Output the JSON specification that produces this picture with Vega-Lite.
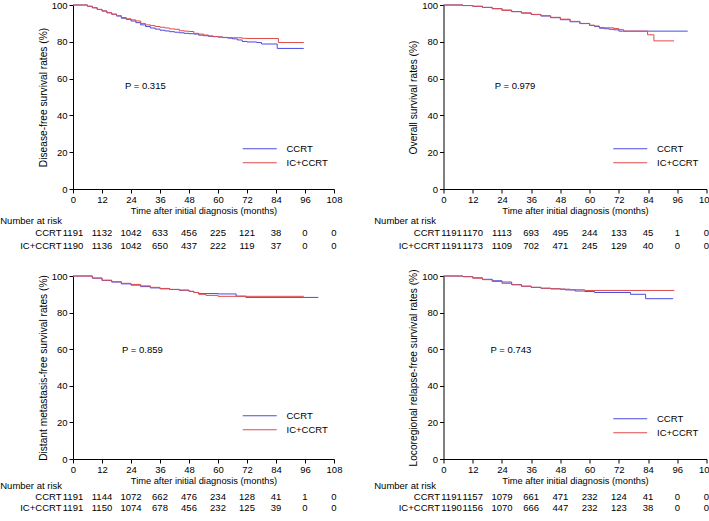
{
  "$schema": "https://vega.github.io/schema/vega-lite/v6.json",
  "padding": {"left": 0, "top": 0, "right": 0, "bottom": 0},
  "background": "white",
  "config": {
    "view": {"stroke": null},
    "font": "Liberation Sans",
    "axis": {"grid": false, "domainColor": "#000", "tickColor": "#000", "labelColor": "#000", "titleColor": "#000", "labelFontSize": 9.5, "titleFontWeight": "normal", "tickSize": 4, "labelOverlap": false, "labelFlush": false, "labelBound": false, "labelFont": "Liberation Sans", "titleFont": "Liberation Sans"},
    "legend": {"labelFont": "Liberation Sans", "labelColor": "#000"},
    "title": {"font": "Liberation Sans", "color": "#000"},
    "text": {"font": "Liberation Sans", "color": "#000"}
  },
  "datasets": {
    "dfs": [
      {"a":"CCRT","t":0,"s":100},{"a":"CCRT","t":4,"s":100},{"a":"CCRT","t":6,"s":99.3},{"a":"CCRT","t":8,"s":98.5},{"a":"CCRT","t":10,"s":97.6},{"a":"CCRT","t":12,"s":96.7},{"a":"CCRT","t":14,"s":95.8},{"a":"CCRT","t":16,"s":95.0},{"a":"CCRT","t":18,"s":94.0},{"a":"CCRT","t":20,"s":92.8},{"a":"CCRT","t":22,"s":92.2},{"a":"CCRT","t":24,"s":91.3},{"a":"CCRT","t":26,"s":90.4},{"a":"CCRT","t":28,"s":89.2},{"a":"CCRT","t":30,"s":88.3},{"a":"CCRT","t":32,"s":87.5},{"a":"CCRT","t":34,"s":86.9},{"a":"CCRT","t":36,"s":86.3},{"a":"CCRT","t":38,"s":85.9},{"a":"CCRT","t":40,"s":85.5},{"a":"CCRT","t":42,"s":85.2},{"a":"CCRT","t":44,"s":84.9},{"a":"CCRT","t":46,"s":84.6},{"a":"CCRT","t":48,"s":84.4},{"a":"CCRT","t":50,"s":84.2},{"a":"CCRT","t":52,"s":83.6},{"a":"CCRT","t":54,"s":83.3},{"a":"CCRT","t":56,"s":83.0},{"a":"CCRT","t":58,"s":82.8},{"a":"CCRT","t":60,"s":82.6},{"a":"CCRT","t":62,"s":82.3},{"a":"CCRT","t":64,"s":82.0},{"a":"CCRT","t":66,"s":81.6},{"a":"CCRT","t":68,"s":81.0},{"a":"CCRT","t":70,"s":80.2},{"a":"CCRT","t":72,"s":79.9},{"a":"CCRT","t":76,"s":79.6},{"a":"CCRT","t":78,"s":78.8},{"a":"CCRT","t":84.5,"s":76.4},{"a":"CCRT","t":95.5,"s":76.4},
      {"a":"IC+CCRT","t":0,"s":100},{"a":"IC+CCRT","t":4,"s":100},{"a":"IC+CCRT","t":6,"s":99.3},{"a":"IC+CCRT","t":8,"s":98.5},{"a":"IC+CCRT","t":10,"s":97.6},{"a":"IC+CCRT","t":12,"s":96.8},{"a":"IC+CCRT","t":14,"s":95.8},{"a":"IC+CCRT","t":16,"s":95.0},{"a":"IC+CCRT","t":18,"s":94.2},{"a":"IC+CCRT","t":20,"s":93.2},{"a":"IC+CCRT","t":22,"s":92.5},{"a":"IC+CCRT","t":24,"s":91.9},{"a":"IC+CCRT","t":26,"s":91.3},{"a":"IC+CCRT","t":28,"s":90.0},{"a":"IC+CCRT","t":30,"s":89.2},{"a":"IC+CCRT","t":32,"s":88.8},{"a":"IC+CCRT","t":34,"s":88.3},{"a":"IC+CCRT","t":36,"s":87.9},{"a":"IC+CCRT","t":38,"s":87.5},{"a":"IC+CCRT","t":40,"s":87.0},{"a":"IC+CCRT","t":42,"s":86.8},{"a":"IC+CCRT","t":44,"s":86.0},{"a":"IC+CCRT","t":46,"s":85.8},{"a":"IC+CCRT","t":48,"s":85.6},{"a":"IC+CCRT","t":50,"s":84.6},{"a":"IC+CCRT","t":52,"s":84.2},{"a":"IC+CCRT","t":54,"s":83.7},{"a":"IC+CCRT","t":56,"s":83.2},{"a":"IC+CCRT","t":58,"s":82.9},{"a":"IC+CCRT","t":60,"s":82.6},{"a":"IC+CCRT","t":62,"s":82.4},{"a":"IC+CCRT","t":64,"s":82.3},{"a":"IC+CCRT","t":66,"s":82.2},{"a":"IC+CCRT","t":70,"s":81.9},{"a":"IC+CCRT","t":72,"s":81.8},{"a":"IC+CCRT","t":85,"s":79.6},{"a":"IC+CCRT","t":95.5,"s":79.6}
    ],
    "os": [
      {"a":"CCRT","t":0,"s":100},{"a":"CCRT","t":4,"s":100},{"a":"CCRT","t":8,"s":99.7},{"a":"CCRT","t":12,"s":99.3},{"a":"CCRT","t":16,"s":98.7},{"a":"CCRT","t":20,"s":98.0},{"a":"CCRT","t":24,"s":97.2},{"a":"CCRT","t":28,"s":96.4},{"a":"CCRT","t":32,"s":95.6},{"a":"CCRT","t":36,"s":94.8},{"a":"CCRT","t":40,"s":94.0},{"a":"CCRT","t":44,"s":93.1},{"a":"CCRT","t":48,"s":92.0},{"a":"CCRT","t":52,"s":90.9},{"a":"CCRT","t":56,"s":89.9},{"a":"CCRT","t":60,"s":88.9},{"a":"CCRT","t":62,"s":88.3},{"a":"CCRT","t":64,"s":87.4},{"a":"CCRT","t":66,"s":87.1},{"a":"CCRT","t":68,"s":86.8},{"a":"CCRT","t":70,"s":86.5},{"a":"CCRT","t":72,"s":85.8},{"a":"CCRT","t":100.3,"s":85.8},
      {"a":"IC+CCRT","t":0,"s":100},{"a":"IC+CCRT","t":4,"s":100},{"a":"IC+CCRT","t":8,"s":99.7},{"a":"IC+CCRT","t":12,"s":99.3},{"a":"IC+CCRT","t":16,"s":98.7},{"a":"IC+CCRT","t":20,"s":98.0},{"a":"IC+CCRT","t":24,"s":97.1},{"a":"IC+CCRT","t":28,"s":96.4},{"a":"IC+CCRT","t":32,"s":95.7},{"a":"IC+CCRT","t":36,"s":94.9},{"a":"IC+CCRT","t":40,"s":94.2},{"a":"IC+CCRT","t":44,"s":93.3},{"a":"IC+CCRT","t":48,"s":92.3},{"a":"IC+CCRT","t":52,"s":91.1},{"a":"IC+CCRT","t":56,"s":90.0},{"a":"IC+CCRT","t":60,"s":89.0},{"a":"IC+CCRT","t":62,"s":88.6},{"a":"IC+CCRT","t":64,"s":87.8},{"a":"IC+CCRT","t":66,"s":87.6},{"a":"IC+CCRT","t":70,"s":87.2},{"a":"IC+CCRT","t":72,"s":86.6},{"a":"IC+CCRT","t":74,"s":85.8},{"a":"IC+CCRT","t":83.8,"s":83.8},{"a":"IC+CCRT","t":86.4,"s":80.5},{"a":"IC+CCRT","t":94.7,"s":80.5}
    ],
    "dmfs": [
      {"a":"CCRT","t":0,"s":100},{"a":"CCRT","t":4,"s":100},{"a":"CCRT","t":8,"s":98.8},{"a":"CCRT","t":12,"s":97.6},{"a":"CCRT","t":16,"s":96.7},{"a":"CCRT","t":20,"s":95.7},{"a":"CCRT","t":24,"s":95.0},{"a":"CCRT","t":28,"s":94.2},{"a":"CCRT","t":32,"s":93.5},{"a":"CCRT","t":36,"s":93.0},{"a":"CCRT","t":40,"s":92.6},{"a":"CCRT","t":44,"s":92.2},{"a":"CCRT","t":48,"s":91.6},{"a":"CCRT","t":50,"s":91.0},{"a":"CCRT","t":52,"s":90.4},{"a":"CCRT","t":60,"s":90.2},{"a":"CCRT","t":67.5,"s":89.0},{"a":"CCRT","t":71.5,"s":88.3},{"a":"CCRT","t":101.5,"s":88.3},
      {"a":"IC+CCRT","t":0,"s":100},{"a":"IC+CCRT","t":4,"s":100},{"a":"IC+CCRT","t":8,"s":98.9},{"a":"IC+CCRT","t":12,"s":97.7},{"a":"IC+CCRT","t":16,"s":96.9},{"a":"IC+CCRT","t":20,"s":96.0},{"a":"IC+CCRT","t":24,"s":95.4},{"a":"IC+CCRT","t":28,"s":94.6},{"a":"IC+CCRT","t":32,"s":93.8},{"a":"IC+CCRT","t":36,"s":93.2},{"a":"IC+CCRT","t":40,"s":92.7},{"a":"IC+CCRT","t":44,"s":92.3},{"a":"IC+CCRT","t":48,"s":91.6},{"a":"IC+CCRT","t":50,"s":91.0},{"a":"IC+CCRT","t":52,"s":90.0},{"a":"IC+CCRT","t":55,"s":89.4},{"a":"IC+CCRT","t":60,"s":88.9},{"a":"IC+CCRT","t":95.5,"s":88.9}
    ],
    "lrrfs": [
      {"a":"CCRT","t":0,"s":100},{"a":"CCRT","t":4,"s":100},{"a":"CCRT","t":8,"s":99.7},{"a":"CCRT","t":12,"s":99.0},{"a":"CCRT","t":16,"s":98.2},{"a":"CCRT","t":20,"s":97.4},{"a":"CCRT","t":24,"s":96.7},{"a":"CCRT","t":28,"s":95.3},{"a":"CCRT","t":32,"s":94.4},{"a":"CCRT","t":36,"s":93.8},{"a":"CCRT","t":40,"s":93.3},{"a":"CCRT","t":44,"s":93.0},{"a":"CCRT","t":48,"s":92.8},{"a":"CCRT","t":50,"s":92.4},{"a":"CCRT","t":54,"s":91.8},{"a":"CCRT","t":58,"s":91.5},{"a":"CCRT","t":62,"s":91.0},{"a":"CCRT","t":76.8,"s":90.0},{"a":"CCRT","t":83,"s":87.6},{"a":"CCRT","t":94.3,"s":87.6},
      {"a":"IC+CCRT","t":0,"s":100},{"a":"IC+CCRT","t":4,"s":100},{"a":"IC+CCRT","t":8,"s":99.6},{"a":"IC+CCRT","t":12,"s":98.8},{"a":"IC+CCRT","t":16,"s":98.0},{"a":"IC+CCRT","t":20,"s":97.0},{"a":"IC+CCRT","t":24,"s":96.0},{"a":"IC+CCRT","t":28,"s":95.2},{"a":"IC+CCRT","t":32,"s":94.4},{"a":"IC+CCRT","t":36,"s":93.8},{"a":"IC+CCRT","t":40,"s":93.3},{"a":"IC+CCRT","t":44,"s":93.0},{"a":"IC+CCRT","t":48,"s":92.8},{"a":"IC+CCRT","t":52,"s":92.5},{"a":"IC+CCRT","t":58,"s":92.1},{"a":"IC+CCRT","t":94.8,"s":92.1}
    ],
    "dfs_risk": [
      {"a":"CCRT","t":0,"n":1191},{"a":"CCRT","t":12,"n":1132},{"a":"CCRT","t":24,"n":1042},{"a":"CCRT","t":36,"n":633},{"a":"CCRT","t":48,"n":456},{"a":"CCRT","t":60,"n":225},{"a":"CCRT","t":72,"n":121},{"a":"CCRT","t":84,"n":38},{"a":"CCRT","t":96,"n":0},{"a":"CCRT","t":108,"n":0},
      {"a":"IC+CCRT","t":0,"n":1190},{"a":"IC+CCRT","t":12,"n":1136},{"a":"IC+CCRT","t":24,"n":1042},{"a":"IC+CCRT","t":36,"n":650},{"a":"IC+CCRT","t":48,"n":437},{"a":"IC+CCRT","t":60,"n":222},{"a":"IC+CCRT","t":72,"n":119},{"a":"IC+CCRT","t":84,"n":37},{"a":"IC+CCRT","t":96,"n":0},{"a":"IC+CCRT","t":108,"n":0}
    ],
    "os_risk": [
      {"a":"CCRT","t":0,"n":1191},{"a":"CCRT","t":12,"n":1170},{"a":"CCRT","t":24,"n":1113},{"a":"CCRT","t":36,"n":693},{"a":"CCRT","t":48,"n":495},{"a":"CCRT","t":60,"n":244},{"a":"CCRT","t":72,"n":133},{"a":"CCRT","t":84,"n":45},{"a":"CCRT","t":96,"n":1},{"a":"CCRT","t":108,"n":0},
      {"a":"IC+CCRT","t":0,"n":1191},{"a":"IC+CCRT","t":12,"n":1173},{"a":"IC+CCRT","t":24,"n":1109},{"a":"IC+CCRT","t":36,"n":702},{"a":"IC+CCRT","t":48,"n":471},{"a":"IC+CCRT","t":60,"n":245},{"a":"IC+CCRT","t":72,"n":129},{"a":"IC+CCRT","t":84,"n":40},{"a":"IC+CCRT","t":96,"n":0},{"a":"IC+CCRT","t":108,"n":0}
    ],
    "dmfs_risk": [
      {"a":"CCRT","t":0,"n":1191},{"a":"CCRT","t":12,"n":1144},{"a":"CCRT","t":24,"n":1072},{"a":"CCRT","t":36,"n":662},{"a":"CCRT","t":48,"n":476},{"a":"CCRT","t":60,"n":234},{"a":"CCRT","t":72,"n":128},{"a":"CCRT","t":84,"n":41},{"a":"CCRT","t":96,"n":1},{"a":"CCRT","t":108,"n":0},
      {"a":"IC+CCRT","t":0,"n":1191},{"a":"IC+CCRT","t":12,"n":1150},{"a":"IC+CCRT","t":24,"n":1074},{"a":"IC+CCRT","t":36,"n":678},{"a":"IC+CCRT","t":48,"n":456},{"a":"IC+CCRT","t":60,"n":232},{"a":"IC+CCRT","t":72,"n":125},{"a":"IC+CCRT","t":84,"n":39},{"a":"IC+CCRT","t":96,"n":0},{"a":"IC+CCRT","t":108,"n":0}
    ],
    "lrrfs_risk": [
      {"a":"CCRT","t":0,"n":1191},{"a":"CCRT","t":12,"n":1157},{"a":"CCRT","t":24,"n":1079},{"a":"CCRT","t":36,"n":661},{"a":"CCRT","t":48,"n":471},{"a":"CCRT","t":60,"n":232},{"a":"CCRT","t":72,"n":124},{"a":"CCRT","t":84,"n":41},{"a":"CCRT","t":96,"n":0},{"a":"CCRT","t":108,"n":0},
      {"a":"IC+CCRT","t":0,"n":1190},{"a":"IC+CCRT","t":12,"n":1156},{"a":"IC+CCRT","t":24,"n":1070},{"a":"IC+CCRT","t":36,"n":666},{"a":"IC+CCRT","t":48,"n":447},{"a":"IC+CCRT","t":60,"n":232},{"a":"IC+CCRT","t":72,"n":123},{"a":"IC+CCRT","t":84,"n":38},{"a":"IC+CCRT","t":96,"n":0},{"a":"IC+CCRT","t":108,"n":0}
    ]
  },
  "resolve": {"scale": {"color": "independent"}, "legend": {"color": "independent"}},
  "spacing": 16,
  "vconcat": [
    {
      "hconcat": [
        {
          "spacing": -1,
          "vconcat": [
            {
              "width": 261, "height": 184,
              "layer": [
                {
                  "data": {"name": "dfs"},
                  "mark": {"type": "line", "interpolate": "step-after", "strokeWidth": 1},
                  "encoding": {
                    "x": {"field": "t", "type": "quantitative", "scale": {"domain": [0, 108], "nice": false, "zero": false}, "axis": {"values": [0,12,24,36,48,60,72,84,96,108], "tickCount": 20, "labelOverlap": false, "title": "Time after initial diagnosis (months)", "titleFontSize": 9.3, "labelPadding": 1.5, "titlePadding": 2}},
                    "y": {"field": "s", "type": "quantitative", "scale": {"domain": [0, 100], "nice": false}, "axis": {"values": [0,20,40,60,80,100], "tickCount": 20, "labelOverlap": false, "title": "Disease-free survival rates (%)", "titleFontSize": 10.2, "labelPadding": 2, "titlePadding": 3}},
                    "color": {"field": "a", "type": "nominal", "scale": {"domain": ["CCRT", "IC+CCRT"], "range": ["#4B4BDF", "#E04B4B"]}, "legend": {"title": null, "orient": "none", "legendX": 182, "legendY": 139, "symbolType": "M-17,0H17", "symbolSize": 4, "symbolStrokeWidth": 1, "labelOffset": 22, "labelFontSize": 9.5, "rowPadding": 3, "padding": 0}}
                  }
                },
                {
                  "data": {"values": [{}]},
                  "mark": {"type": "text", "align": "left", "baseline": "middle", "fontSize": 9.5},
                  "encoding": {"x": {"datum": 21.5}, "y": {"datum": 56}, "text": {"value": "P = 0.315"}}
                }
              ]
            },
            {
              "width": 261, "height": 26,
              "data": {"name": "dfs_risk"},
              "title": {"text": "Number at risk", "anchor": "start", "frame": "bounds", "fontSize": 9.5, "fontWeight": "normal", "offset": 1, "dx": -19.5},
              "mark": {"type": "text", "fontSize": 9.5},
              "encoding": {
                "x": {"field": "t", "type": "quantitative", "scale": {"domain": [0, 108], "nice": false, "zero": false}, "axis": null},
                "y": {"field": "a", "type": "nominal", "scale": {"domain": ["CCRT", "IC+CCRT"]}, "axis": {"title": null, "domain": false, "ticks": false, "tickSize": 0, "labelPadding": 12, "labelFontSize": 9.5}},
                "text": {"field": "n"}
              }
            }
          ]
        },
        {
          "spacing": -1,
          "vconcat": [
            {
              "width": 263, "height": 184,
              "layer": [
                {
                  "data": {"name": "os"},
                  "mark": {"type": "line", "interpolate": "step-after", "strokeWidth": 1},
                  "encoding": {
                    "x": {"field": "t", "type": "quantitative", "scale": {"domain": [0, 108], "nice": false, "zero": false}, "axis": {"values": [0,12,24,36,48,60,72,84,96,108], "tickCount": 20, "labelOverlap": false, "title": "Time after initial diagnosis (months)", "titleFontSize": 9.3, "labelPadding": 1.5, "titlePadding": 2}},
                    "y": {"field": "s", "type": "quantitative", "scale": {"domain": [0, 100], "nice": false}, "axis": {"values": [0,20,40,60,80,100], "tickCount": 20, "labelOverlap": false, "title": "Overall survival rates (%)", "titleFontSize": 10.2, "labelPadding": 2, "titlePadding": 3}},
                    "color": {"field": "a", "type": "nominal", "scale": {"domain": ["CCRT", "IC+CCRT"], "range": ["#4B4BDF", "#E04B4B"]}, "legend": {"title": null, "orient": "none", "legendX": 182, "legendY": 139, "symbolType": "M-17,0H17", "symbolSize": 4, "symbolStrokeWidth": 1, "labelOffset": 22, "labelFontSize": 9.5, "rowPadding": 3, "padding": 0}}
                  }
                },
                {
                  "data": {"values": [{}]},
                  "mark": {"type": "text", "align": "left", "baseline": "middle", "fontSize": 9.5},
                  "encoding": {"x": {"datum": 21}, "y": {"datum": 56}, "text": {"value": "P = 0.979"}}
                }
              ]
            },
            {
              "width": 263, "height": 26,
              "data": {"name": "os_risk"},
              "title": {"text": "Number at risk", "anchor": "start", "frame": "bounds", "fontSize": 9.5, "fontWeight": "normal", "offset": 1, "dx": -24},
              "encoding": {
                "x": {"field": "t", "type": "quantitative", "scale": {"domain": [0, 108], "nice": false, "zero": false}, "axis": null},
                "y": {"field": "a", "type": "nominal", "scale": {"domain": ["CCRT", "IC+CCRT"]}, "axis": {"title": null, "domain": false, "ticks": false, "tickSize": 0, "labelPadding": 4, "labelFontSize": 9.5}},
                "text": {"field": "n"}
              },
              "layer": [
                {"transform": [{"filter": "datum.t > 0"}], "mark": {"type": "text", "fontSize": 9.5}},
                {"transform": [{"filter": "datum.t == 0"}], "mark": {"type": "text", "fontSize": 9.5, "dx": 8}}
              ]
            }
          ]
        }
      ],
      "spacing": 31.5,
      "resolve": {"scale": {"color": "independent"}, "legend": {"color": "independent"}}
    },
    {
      "hconcat": [
        {
          "spacing": -6,
          "vconcat": [
            {
              "width": 261, "height": 183,
              "layer": [
                {
                  "data": {"name": "dmfs"},
                  "mark": {"type": "line", "interpolate": "step-after", "strokeWidth": 1},
                  "encoding": {
                    "x": {"field": "t", "type": "quantitative", "scale": {"domain": [0, 108], "nice": false, "zero": false}, "axis": {"values": [0,12,24,36,48,60,72,84,96,108], "tickCount": 20, "labelOverlap": false, "title": "Time after initial diagnosis (months)", "titleFontSize": 9.3, "labelPadding": 1.5, "titlePadding": 2}},
                    "y": {"field": "s", "type": "quantitative", "scale": {"domain": [0, 100], "nice": false}, "axis": {"values": [0,20,40,60,80,100], "tickCount": 20, "labelOverlap": false, "title": "Distant metastasis-free survival rates (%)", "titleFontSize": 10.2, "labelPadding": 2, "titlePadding": 3}},
                    "color": {"field": "a", "type": "nominal", "scale": {"domain": ["CCRT", "IC+CCRT"], "range": ["#4B4BDF", "#E04B4B"]}, "legend": {"title": null, "orient": "none", "legendX": 182, "legendY": 135, "symbolType": "M-17,0H17", "symbolSize": 4, "symbolStrokeWidth": 1, "labelOffset": 22, "labelFontSize": 9.5, "rowPadding": 3, "padding": 0}}
                  }
                },
                {
                  "data": {"values": [{}]},
                  "mark": {"type": "text", "align": "left", "baseline": "middle", "fontSize": 9.5},
                  "encoding": {"x": {"datum": 20.3}, "y": {"datum": 59.6}, "text": {"value": "P = 0.859"}}
                }
              ]
            },
            {
              "width": 261, "height": 22,
              "data": {"name": "dmfs_risk"},
              "title": {"text": "Number at risk", "anchor": "start", "frame": "bounds", "fontSize": 9.5, "fontWeight": "normal", "offset": 1, "dx": -19.5},
              "mark": {"type": "text", "fontSize": 9.5},
              "encoding": {
                "x": {"field": "t", "type": "quantitative", "scale": {"domain": [0, 108], "nice": false, "zero": false}, "axis": null},
                "y": {"field": "a", "type": "nominal", "scale": {"domain": ["CCRT", "IC+CCRT"]}, "axis": {"title": null, "domain": false, "ticks": false, "tickSize": 0, "labelPadding": 12, "labelFontSize": 9.5}},
                "text": {"field": "n"}
              }
            }
          ]
        },
        {
          "spacing": -6,
          "vconcat": [
            {
              "width": 263, "height": 183,
              "layer": [
                {
                  "data": {"name": "lrrfs"},
                  "mark": {"type": "line", "interpolate": "step-after", "strokeWidth": 1},
                  "encoding": {
                    "x": {"field": "t", "type": "quantitative", "scale": {"domain": [0, 108], "nice": false, "zero": false}, "axis": {"values": [0,12,24,36,48,60,72,84,96,108], "tickCount": 20, "labelOverlap": false, "title": "Time after initial diagnosis (months)", "titleFontSize": 9.3, "labelPadding": 1.5, "titlePadding": 2}},
                    "y": {"field": "s", "type": "quantitative", "scale": {"domain": [0, 100], "nice": false}, "axis": {"values": [0,20,40,60,80,100], "tickCount": 20, "labelOverlap": false, "title": "Locoregional relapse-free survival rates (%)", "titleFontSize": 10.2, "labelPadding": 2, "titlePadding": 3}},
                    "color": {"field": "a", "type": "nominal", "scale": {"domain": ["CCRT", "IC+CCRT"], "range": ["#4B4BDF", "#E04B4B"]}, "legend": {"title": null, "orient": "none", "legendX": 182, "legendY": 138, "symbolType": "M-17,0H17", "symbolSize": 4, "symbolStrokeWidth": 1, "labelOffset": 22, "labelFontSize": 9.5, "rowPadding": 3, "padding": 0}}
                  }
                },
                {
                  "data": {"values": [{}]},
                  "mark": {"type": "text", "align": "left", "baseline": "middle", "fontSize": 9.5},
                  "encoding": {"x": {"datum": 19.3}, "y": {"datum": 59.6}, "text": {"value": "P = 0.743"}}
                }
              ]
            },
            {
              "width": 263, "height": 22,
              "data": {"name": "lrrfs_risk"},
              "title": {"text": "Number at risk", "anchor": "start", "frame": "bounds", "fontSize": 9.5, "fontWeight": "normal", "offset": 1, "dx": -24},
              "encoding": {
                "x": {"field": "t", "type": "quantitative", "scale": {"domain": [0, 108], "nice": false, "zero": false}, "axis": null},
                "y": {"field": "a", "type": "nominal", "scale": {"domain": ["CCRT", "IC+CCRT"]}, "axis": {"title": null, "domain": false, "ticks": false, "tickSize": 0, "labelPadding": 4, "labelFontSize": 9.5}},
                "text": {"field": "n"}
              },
              "layer": [
                {"transform": [{"filter": "datum.t > 0"}], "mark": {"type": "text", "fontSize": 9.5}},
                {"transform": [{"filter": "datum.t == 0"}], "mark": {"type": "text", "fontSize": 9.5, "dx": 8}}
              ]
            }
          ]
        }
      ],
      "spacing": 31.5,
      "resolve": {"scale": {"color": "independent"}, "legend": {"color": "independent"}}
    }
  ]
}
